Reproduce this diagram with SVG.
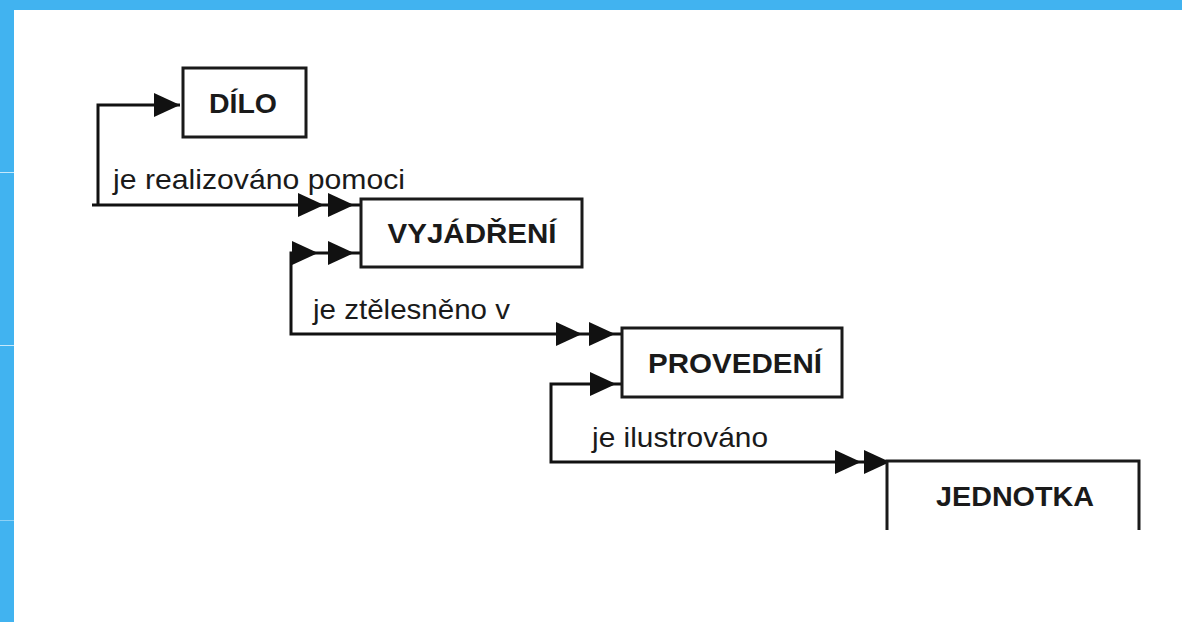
<svg xmlns="http://www.w3.org/2000/svg" xmlns:xlink="http://www.w3.org/1999/xlink" width="1182" height="622" viewBox="0 0 1182 622">
  <style>
    .box { fill: #ffffff; stroke: #1a1a1a; stroke-width: 3; }
    .title { font-family: "Liberation Sans", Arial, sans-serif; font-weight: bold; font-size: 28px; fill: #1a1a1a; text-anchor: middle; }
    .lbl { font-family: "Liberation Sans", Arial, sans-serif; font-size: 28px; fill: #1a1a1a; }
    .wire { fill: none; stroke: #111111; stroke-width: 3; }
    .head { fill: #111111; }
  </style>
  <defs>
    <path id="ah" d="M0,0 L-26,-12 L-26,12 Z"/>
  </defs>
  <rect x="0" y="0" width="1182" height="622" fill="#ffffff"/>
  <g id="frame">
    <rect x="0" y="0" width="1182" height="10" fill="#41b3f0"/>
    <rect x="0" y="0" width="14" height="622" fill="#41b3f0"/>
    <line x1="0" y1="172.5" x2="14" y2="172.5" stroke="#ffffff" stroke-opacity="0.7" stroke-width="1"/>
    <line x1="0" y1="345.5" x2="14" y2="345.5" stroke="#ffffff" stroke-opacity="0.7" stroke-width="1"/>
    <line x1="0" y1="520.5" x2="14" y2="520.5" stroke="#ffffff" stroke-opacity="0.4" stroke-width="1"/>
  </g>
  <g id="connectors">
    <path class="wire" d="M180,105 H98 V205 M92,205 H361"/>
    <use xlink:href="#ah" href="#ah" x="180" y="105" class="head"/>
    <use xlink:href="#ah" href="#ah" x="324" y="205" class="head"/>
    <use xlink:href="#ah" href="#ah" x="354" y="205" class="head"/>
    <text class="lbl" x="113" y="189" textLength="292" lengthAdjust="spacingAndGlyphs">je realizováno pomoci</text>

    <path class="wire" d="M361,253 H291 V334 H622"/>
    <use xlink:href="#ah" href="#ah" x="318" y="253" class="head"/>
    <use xlink:href="#ah" href="#ah" x="354" y="253" class="head"/>
    <use xlink:href="#ah" href="#ah" x="582" y="334" class="head"/>
    <use xlink:href="#ah" href="#ah" x="615" y="334" class="head"/>
    <text class="lbl" x="313" y="319" textLength="197" lengthAdjust="spacingAndGlyphs">je ztělesněno v</text>

    <path class="wire" d="M622,384 H551 V462 H887"/>
    <use xlink:href="#ah" href="#ah" x="616" y="384" class="head"/>
    <use xlink:href="#ah" href="#ah" x="861" y="462" class="head"/>
    <use xlink:href="#ah" href="#ah" x="890" y="462" class="head"/>
    <text class="lbl" x="592" y="447" textLength="176" lengthAdjust="spacingAndGlyphs">je ilustrováno</text>
  </g>
  <g id="dilo">
    <rect class="box" x="183" y="68" width="123" height="69"/>
    <text class="title" x="243" y="113" textLength="68" lengthAdjust="spacingAndGlyphs">DÍLO</text>
  </g>
  <g id="vyjadreni">
    <rect class="box" x="361" y="199" width="221" height="68"/>
    <text class="title" x="472" y="243" textLength="169" lengthAdjust="spacingAndGlyphs">VYJÁDŘENÍ</text>
  </g>
  <g id="provedeni">
    <rect class="box" x="622" y="328" width="220" height="69"/>
    <text class="title" x="735" y="373" textLength="174" lengthAdjust="spacingAndGlyphs">PROVEDENÍ</text>
  </g>
  <g id="jednotka">
    <path class="box" fill="none" d="M887,530 V461 H1139 V530"/>
    <text class="title" x="1015" y="506" textLength="158" lengthAdjust="spacingAndGlyphs">JEDNOTKA</text>
  </g>
</svg>
